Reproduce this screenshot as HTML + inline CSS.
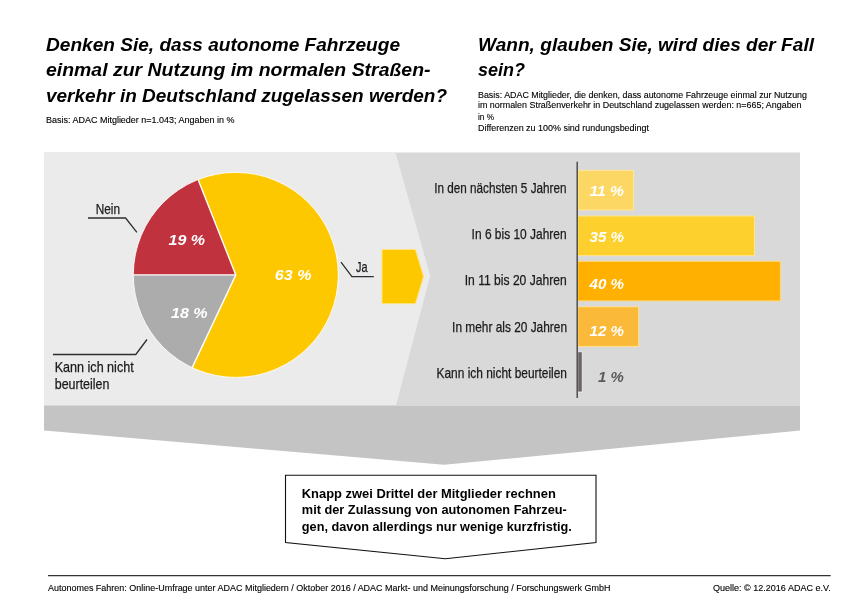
<!DOCTYPE html>
<html lang="de">
<head>
<meta charset="utf-8">
<title>Autonomes Fahren</title>
<style>
html,body{margin:0;padding:0;background:#ffffff;}
body{width:858px;height:606px;overflow:hidden;font-family:"Liberation Sans",sans-serif;}
svg{display:block;will-change:transform;}
text{font-family:"Liberation Sans",sans-serif;}
.t{font-weight:bold;font-style:italic;font-size:17.5px;fill:#000;}
.b{font-size:8.6px;fill:#000;stroke:#000;stroke-width:0.12px;}
.l{font-size:14.2px;fill:#1a1a1a;stroke:#1a1a1a;stroke-width:0.25px;}
.p{font-weight:bold;font-style:italic;font-size:15px;fill:#fff;}
.k{font-weight:bold;font-size:12.6px;fill:#000;}
.f{font-size:9px;fill:#000;stroke:#000;stroke-width:0.12px;}
</style>
</head>
<body>
<svg width="858" height="606" viewBox="0 0 858 606">
<rect x="0" y="0" width="858" height="606" fill="#ffffff"/>

<!-- titles -->
<text class="t" x="46" y="50.7" textLength="354" lengthAdjust="spacingAndGlyphs">Denken Sie, dass autonome Fahrzeuge</text>
<text class="t" x="46" y="76.4" textLength="384.5" lengthAdjust="spacingAndGlyphs">einmal zur Nutzung im normalen Straßen-</text>
<text class="t" x="46" y="102.1" textLength="401" lengthAdjust="spacingAndGlyphs">verkehr in Deutschland zugelassen werden?</text>
<text class="b" x="46" y="122.9" textLength="188.5" lengthAdjust="spacingAndGlyphs">Basis: ADAC Mitglieder n=1.043; Angaben in %</text>

<text class="t" x="478" y="50.7" textLength="336" lengthAdjust="spacingAndGlyphs">Wann, glauben Sie, wird dies der Fall</text>
<text class="t" x="478" y="76.4" textLength="47" lengthAdjust="spacingAndGlyphs">sein?</text>
<text class="b" x="478" y="97.7" textLength="329" lengthAdjust="spacingAndGlyphs">Basis: ADAC Mitglieder, die denken, dass autonome Fahrzeuge einmal zur Nutzung</text>
<text class="b" x="478" y="108.4" textLength="323.5" lengthAdjust="spacingAndGlyphs">im normalen Straßenverkehr in Deutschland zugelassen werden: n=665; Angaben</text>
<text class="b" x="478" y="119.6" textLength="16" lengthAdjust="spacingAndGlyphs">in %</text>
<text class="b" x="478" y="130.6" textLength="171" lengthAdjust="spacingAndGlyphs">Differenzen zu 100% sind rundungsbedingt</text>

<!-- panels -->
<rect x="44" y="152.5" width="756" height="253" fill="#d9d9d9"/>
<polygon points="44,152.5 395.5,152.5 430.2,275.8 396,405.5 44,405.5" fill="#ebebeb"/>
<polygon points="44,405.5 800,405.5 800,430.5 444,464.8 44,430.5" fill="#c4c4c4"/>

<!-- pie -->
<path d="M235.8,274.9 L198.07,179.60 A102.5,102.5 0 1 1 192.16,367.64 Z" fill="#fdc800"/>
<path d="M235.8,274.9 L133.30,274.90 A102.5,102.5 0 0 1 198.07,179.60 Z" fill="#c1323f"/>
<path d="M235.8,274.9 L192.16,367.64 A102.5,102.5 0 0 1 133.30,274.90 Z" fill="#acacac"/>
<g stroke="#ffffff" stroke-width="1.4" fill="none">
<line x1="235.8" y1="274.9" x2="133.30" y2="274.90"/>
<line x1="235.8" y1="274.9" x2="198.07" y2="179.60"/>
<line x1="235.8" y1="274.9" x2="192.16" y2="367.64"/>
</g>
<circle cx="235.8" cy="274.9" r="102.5" fill="none" stroke="#ffffff" stroke-width="1" stroke-opacity="0.85"/>

<text class="p" x="168.5" y="245.2" textLength="36.5" lengthAdjust="spacingAndGlyphs">19 %</text>
<text class="p" x="274.8" y="279.8" textLength="36.7" lengthAdjust="spacingAndGlyphs">63 %</text>
<text class="p" x="171" y="317.5" textLength="36.7" lengthAdjust="spacingAndGlyphs">18 %</text>

<!-- leaders -->
<g stroke="#2e2e2e" stroke-width="1.3" fill="none">
<polyline points="88,218 125.6,218 136.9,232.4"/>
<polyline points="52.9,354.5 135.8,354.5 147,339.5"/>
<polyline points="341,262.1 351.9,276.6 373.8,276.6"/>
</g>
<text class="l" x="95.7" y="213.8" textLength="24.3" lengthAdjust="spacingAndGlyphs">Nein</text>
<text class="l" x="356.1" y="272.4" textLength="11.5" lengthAdjust="spacingAndGlyphs">Ja</text>
<text class="l" x="54.7" y="371.5" textLength="79" lengthAdjust="spacingAndGlyphs">Kann ich nicht</text>
<text class="l" x="54.7" y="389.4" textLength="54.8" lengthAdjust="spacingAndGlyphs">beurteilen</text>

<!-- arrow -->
<polygon points="382,249.5 415.4,249.5 423.5,276.4 415.4,303.6 382,303.6" fill="#fdc800" stroke="#ffe27a" stroke-width="1"/>

<!-- bars -->
<rect x="577.8" y="170.3" width="55.8" height="39.8" fill="#fdd764" stroke="#fee9a0" stroke-width="1"/>
<rect x="577.8" y="216" width="176.6" height="39.6" fill="#fdd02e" stroke="#fee68c" stroke-width="1"/>
<rect x="577.8" y="261.3" width="202.6" height="39.6" fill="#ffb000" stroke="#ffd873" stroke-width="1"/>
<rect x="577.8" y="306.8" width="60.8" height="39.6" fill="#fbb93a" stroke="#fee08c" stroke-width="1"/>
<rect x="577.8" y="351.8" width="4.4" height="40.2" fill="#6b6464" stroke="#f4f4f4" stroke-width="0.8"/>
<line x1="577.2" y1="161.7" x2="577.2" y2="398" stroke="#444444" stroke-width="1.4"/>

<text class="l" x="434.2" y="192.7" textLength="132.3" lengthAdjust="spacingAndGlyphs">In den nächsten 5 Jahren</text>
<text class="l" x="471.6" y="238.9" textLength="95" lengthAdjust="spacingAndGlyphs">In 6 bis 10 Jahren</text>
<text class="l" x="464.7" y="285.1" textLength="102" lengthAdjust="spacingAndGlyphs">In 11 bis 20 Jahren</text>
<text class="l" x="452.1" y="331.6" textLength="114.9" lengthAdjust="spacingAndGlyphs">In mehr als 20 Jahren</text>
<text class="l" x="436.5" y="377.7" textLength="130.5" lengthAdjust="spacingAndGlyphs">Kann ich nicht beurteilen</text>

<text class="p" x="589.5" y="196.2" textLength="34.5" lengthAdjust="spacingAndGlyphs">11 %</text>
<text class="p" x="589.5" y="242.4" textLength="34.5" lengthAdjust="spacingAndGlyphs">35 %</text>
<text class="p" x="589.5" y="289" textLength="34.5" lengthAdjust="spacingAndGlyphs">40 %</text>
<text class="p" x="589.5" y="335.5" textLength="34.5" lengthAdjust="spacingAndGlyphs">12 %</text>
<text class="p" x="598" y="381.7" textLength="25.8" lengthAdjust="spacingAndGlyphs" style="fill:#5a5a5a">1 %</text>

<!-- callout -->
<polygon points="285.5,475.2 596,475.2 596,542.5 445.4,558.8 285.5,542.5" fill="#ffffff" stroke="#111111" stroke-width="1.1"/>
<text class="k" x="301.8" y="497.6" textLength="254" lengthAdjust="spacingAndGlyphs">Knapp zwei Drittel der Mitglieder rechnen</text>
<text class="k" x="301.8" y="514.3" textLength="265" lengthAdjust="spacingAndGlyphs">mit der Zulassung von autonomen Fahrzeu-</text>
<text class="k" x="301.8" y="531" textLength="270" lengthAdjust="spacingAndGlyphs">gen, davon allerdings nur wenige kurzfristig.</text>

<!-- footer -->
<line x1="48" y1="575.7" x2="830.7" y2="575.7" stroke="#333333" stroke-width="1.2"/>
<text class="f" x="48" y="590.8" textLength="562.4" lengthAdjust="spacingAndGlyphs">Autonomes Fahren: Online-Umfrage unter ADAC Mitgliedern / Oktober 2016 / ADAC Markt- und Meinungsforschung / Forschungswerk GmbH</text>
<text class="f" x="713" y="590.8" textLength="117.7" lengthAdjust="spacingAndGlyphs">Quelle: © 12.2016 ADAC e.V.</text>
</svg>
</body>
</html>
